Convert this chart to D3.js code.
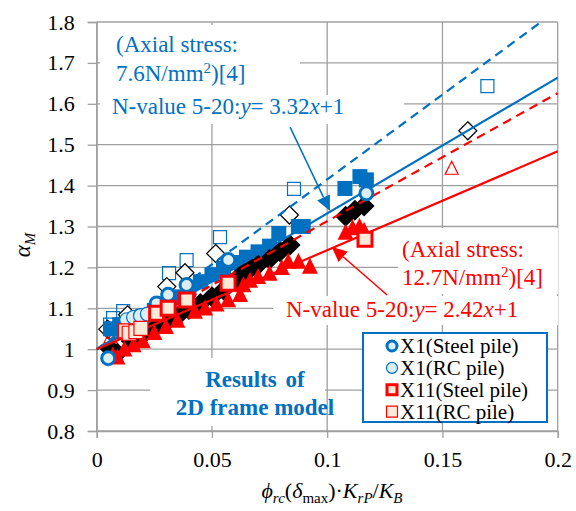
<!DOCTYPE html>
<html>
<head>
<meta charset="utf-8">
<script src="https://cdn.jsdelivr.net/npm/d3@7"></script>
<style>
  body { margin: 0; background: #fff; }
</style>
</head>
<body>
<svg id="chart" width="576" height="511" font-family="Liberation Serif"></svg>
<script>
// tick values and labels
var xTicks = [0, 0.05, 0.1, 0.15, 0.2];
var xTickLabels = ["0", "0.05", "0.1", "0.15", "0.2"];
var yTicks = [0.8, 0.9, 1.0, 1.1, 1.2, 1.3, 1.4, 1.5, 1.6, 1.7, 1.8];
var yTickLabels = ["0.8", "0.9", "1", "1.1", "1.2", "1.3", "1.4", "1.5", "1.6", "1.7", "1.8"];

// trend lines  y = a*x + 1
var lineBlueSolid = 3.32;
var lineBlueDash = 4.15;
var lineRedSolid = 2.42;
var lineRedDash = 3.13;

// open markers (other study)
var openBlueSq = [[0.1695,1.643],[0.0856,1.392],[0.0535,1.274],[0.039,1.218],[0.0314,1.186],[0.0115,1.093],[0.0071,1.076],[0.0058,1.06]];
var openBlackDia = [[0.161,1.534],[0.0836,1.328],[0.0516,1.234],[0.0383,1.187],[0.0304,1.153],[0.0134,1.084],[0.0048,1.049]];
var openRedTri = [[0.154,1.442],[0.0803,1.275],[0.0499,1.181],[0.0101,1.05],[0.008,1.04],[0.006,1.03]];

// filled markers
var fillBlueSq = [[0.006,1.05],[0.01,1.06],[0.015,1.07],[0.02,1.08],[0.025,1.095],[0.03,1.11],[0.035,1.128],[0.04,1.145],[0.045,1.165],[0.05,1.182],[0.055,1.198],[0.06,1.212],[0.065,1.225],[0.07,1.238],[0.075,1.252],[0.079,1.283],[0.0875,1.30],[0.0896,1.30],[0.1077,1.393],[0.1142,1.422],[0.117,1.414]];
var fillBlackDia = [[0.006,1.0],[0.009,0.99],[0.015,1.02],[0.02,1.035],[0.025,1.05],[0.03,1.065],[0.035,1.08],[0.04,1.097],[0.045,1.112],[0.05,1.128],[0.055,1.145],[0.06,1.168],[0.064,1.19],[0.067,1.198],[0.07,1.206],[0.075,1.22],[0.0795,1.238],[0.0839,1.255],[0.108,1.325],[0.112,1.34],[0.116,1.35]];
var fillRedTri = [[0.007,0.985],[0.009,0.98],[0.012,1.0],[0.016,1.01],[0.02,1.02],[0.025,1.04],[0.03,1.055],[0.035,1.07],[0.0426,1.092],[0.047,1.10],[0.052,1.11],[0.057,1.12],[0.0622,1.133],[0.0636,1.157],[0.0665,1.168],[0.07,1.177],[0.075,1.185],[0.0803,1.199],[0.0831,1.214],[0.0875,1.214],[0.0925,1.202],[0.108,1.285],[0.111,1.296],[0.114,1.30],[0.116,1.29]];

// 2D frame model results
var x1Steel = [[0.005,0.978],[0.026,1.112],[0.031,1.133],[0.039,1.157],[0.0571,1.218],[0.117,1.381]];
var x1RC = [[0.013,1.072],[0.016,1.078],[0.019,1.082],[0.022,1.086]];
var x11Steel = [[0.026,1.088],[0.031,1.100],[0.039,1.12],[0.057,1.161],[0.1164,1.269]];
var x11RC = [[0.0125,1.045],[0.0141,1.039],[0.017,1.043],[0.0192,1.051]];

var legendNames = ["X1(Steel pile)", "X1(RC pile)", "X11(Steel pile)", "X11(RC pile)"];

var BLUE = "#0070C0", RED = "#FF0000", LBLUE = "#DAEEF3", PINK = "#FDE9D9", GRID = "#a0a0a0";
var FONT = "Liberation Serif";

var svg = d3.select("#chart");
var x = d3.scaleLinear().domain([0, 0.2]).range([96.7, 557.7]);
var y = d3.scaleLinear().domain([0.8, 1.8]).range([431, 22]);

// grid
svg.append("g").selectAll("line").data(yTicks).join("line")
  .attr("x1", x(0)).attr("x2", x(0.2))
  .attr("y1", d => y(d)).attr("y2", d => y(d))
  .attr("stroke", GRID).attr("stroke-width", 1.3);
svg.append("g").selectAll("line").data(xTicks).join("line")
  .attr("x1", d => x(d)).attr("x2", d => x(d))
  .attr("y1", y(1.8)).attr("y2", y(0.8))
  .attr("stroke", GRID).attr("stroke-width", 1.3);

// axes
var yAxis = svg.append("g").attr("transform", "translate(" + x(0) + ",0)")
  .call(d3.axisLeft(y).tickValues(yTicks).tickSize(9).tickPadding(13)
    .tickFormat((d, i) => yTickLabels[i]));
var xAxis = svg.append("g").attr("transform", "translate(0," + y(0.8) + ")")
  .call(d3.axisBottom(x).tickValues(xTicks).tickSize(7).tickPadding(13)
    .tickFormat((d, i) => xTickLabels[i]));
[yAxis, xAxis].forEach(function (g) {
  g.attr("font-family", FONT).attr("font-size", 22);
  g.select(".domain").attr("stroke", GRID).attr("stroke-width", 1.3);
  g.selectAll(".tick line").attr("stroke", GRID).attr("stroke-width", 1.3);
  g.selectAll(".tick text").attr("fill", "#000");
});

// white boxes behind the annotations
var boxes = [[100, 25, 200, 70], [100, 95, 304, 29], [398, 228, 160, 66], [273, 296, 285, 29], [150, 358, 175, 68]];
svg.append("g").selectAll("rect").data(boxes).join("rect")
  .attr("x", d => d[0]).attr("y", d => d[1]).attr("width", d => d[2]).attr("height", d => d[3])
  .attr("fill", "#fff");

function sqPath(s) { return "M" + (-s/2) + "," + (-s/2) + "h" + s + "v" + s + "h" + (-s) + "z"; }
function diaPath(s) { return "M0," + (-s/2) + "L" + (s/2) + ",0L0," + (s/2) + "L" + (-s/2) + ",0z"; }
function triPath(s) { return "M0," + (-s*0.55) + "L" + (s/2) + "," + (s*0.45) + "L" + (-s/2) + "," + (s*0.45) + "z"; }

function drawPts(data, path, fill, stroke, sw) {
  svg.append("g").selectAll("path").data(data).join("path")
    .attr("transform", d => "translate(" + x(d[0]) + "," + y(d[1]) + ")")
    .attr("d", path).attr("fill", fill).attr("stroke", stroke).attr("stroke-width", sw);
}

// open markers
drawPts(openBlueSq, sqPath(13), "none", BLUE, 1.2);
drawPts(openBlackDia, diaPath(18), "#fff", "#000", 1.2);
drawPts(openRedTri, triPath(13), "none", RED, 1.2);

// filled markers
drawPts(fillBlueSq, sqPath(15), BLUE, "none", 0);
drawPts(fillBlackDia, diaPath(21), "#000", "none", 0);
drawPts(fillRedTri, triPath(16), RED, "none", 0);

// trend lines
function trend(a, color, dash) {
  var xEnd = Math.min(0.2, 0.8 / a);
  svg.append("line")
    .attr("x1", x(0)).attr("y1", y(1))
    .attr("x2", x(xEnd)).attr("y2", y(a * xEnd + 1))
    .attr("stroke", color).attr("stroke-width", 2.2)
    .attr("stroke-dasharray", dash ? "9,6" : null);
}
trend(lineBlueDash, BLUE, true);
trend(lineRedDash, RED, true);
trend(lineBlueSolid, BLUE, false);
trend(lineRedSolid, RED, false);

// 2D frame model
svg.append("g").selectAll("circle").data(x1RC).join("circle")
  .attr("cx", d => x(d[0])).attr("cy", d => y(d[1])).attr("r", 7)
  .attr("fill", LBLUE).attr("stroke", BLUE).attr("stroke-width", 1.2);
svg.append("g").selectAll("circle").data(x1Steel).join("circle")
  .attr("cx", d => x(d[0])).attr("cy", d => y(d[1])).attr("r", 6.5)
  .attr("fill", LBLUE).attr("stroke", BLUE).attr("stroke-width", 3);
drawPts(x11RC, sqPath(14), PINK, RED, 1.2);
drawPts(x11Steel, sqPath(14), PINK, RED, 3);

// annotation texts
function label(tx, ty, color) {
  return svg.append("text").attr("x", tx).attr("y", ty).attr("fill", color)
    .attr("font-family", FONT).attr("font-size", 23);
}
function eqLabel(t, slope) {
  t.append("tspan").text("N-value 5-20:");
  t.append("tspan").attr("font-style", "italic").text("y");
  t.append("tspan").text("= " + slope);
  t.append("tspan").attr("font-style", "italic").text("x");
  t.append("tspan").text("+1");
}
function stressLabel(t, val) {
  t.append("tspan").text(val + "N/mm");
  t.append("tspan").attr("dy", -8).attr("font-size", 15).text("2");
  t.append("tspan").attr("dy", 8).text(")[4]");
}
label(116, 52, BLUE).text("(Axial  stress:");
stressLabel(label(116, 81, BLUE), "7.6");
eqLabel(label(112, 114, BLUE), "3.32");

label(402, 257, RED).text("(Axial  stress:");
stressLabel(label(402, 285, RED), "12.7");
eqLabel(label(286, 317, RED), "2.42");

svg.append("text").attr("x", 255).attr("y", 387).attr("text-anchor", "middle")
  .attr("fill", BLUE).attr("font-family", FONT).attr("font-size", 23).attr("font-weight", "bold")
  .attr("word-spacing", 3).text("Results of");
svg.append("text").attr("x", 255).attr("y", 415).attr("text-anchor", "middle")
  .attr("fill", BLUE).attr("font-family", FONT).attr("font-size", 23).attr("font-weight", "bold")
  .text("2D frame model");

// arrows
function arrow(x0, y0, x1, y1, color) {
  var p0 = [x(x0), y(y0)], p1 = [x(x1), y(y1)];
  var ang = Math.atan2(p1[1] - p0[1], p1[0] - p0[0]);
  var L = 15, W = 7;
  var bx = p1[0] - L * Math.cos(ang), by = p1[1] - L * Math.sin(ang);
  svg.append("line").attr("x1", p0[0]).attr("y1", p0[1]).attr("x2", bx).attr("y2", by)
    .attr("stroke", color).attr("stroke-width", 1.5);
  svg.append("path")
    .attr("d", "M" + p1[0] + "," + p1[1] +
      "L" + (bx + W * Math.sin(ang)) + "," + (by - W * Math.cos(ang)) +
      "L" + (bx - W * Math.sin(ang)) + "," + (by + W * Math.cos(ang)) + "z")
    .attr("fill", color);
}
arrow(0.0839, 1.543, 0.1012, 1.338, BLUE);
arrow(0.126, 1.1325, 0.102, 1.250, RED);

// axis titles
var xt = svg.append("text").attr("x", 332).attr("y", 498).attr("text-anchor", "middle")
  .attr("font-family", FONT).attr("font-size", 22);
xt.append("tspan").attr("font-style", "italic").text("ϕ");
xt.append("tspan").attr("font-style", "italic").attr("font-size", 15).attr("dy", 5).text("rc");
xt.append("tspan").attr("dy", -5).text("(");
xt.append("tspan").attr("font-style", "italic").text("δ");
xt.append("tspan").attr("font-size", 15).attr("dy", 5).text("max");
xt.append("tspan").attr("dy", -5).text(")\u00b7");
xt.append("tspan").attr("font-style", "italic").text("K");
xt.append("tspan").attr("font-style", "italic").attr("font-size", 15).attr("dy", 5).text("rP");
xt.append("tspan").attr("dy", -5).text("/");
xt.append("tspan").attr("font-style", "italic").text("K");
xt.append("tspan").attr("font-style", "italic").attr("font-size", 15).attr("dy", 5).text("B");

var yt = svg.append("text").attr("transform", "translate(30,245) rotate(-90)")
  .attr("text-anchor", "middle").attr("font-family", FONT).attr("font-size", 23);
yt.append("tspan").attr("font-style", "italic").text("α");
yt.append("tspan").attr("font-style", "italic").attr("font-size", 15).attr("dy", 5).text("M");

// legend
var lg = svg.append("g").attr("transform", "translate(363,333)");
lg.append("rect").attr("width", 184).attr("height", 89).attr("fill", "#fff")
  .attr("stroke", BLUE).attr("stroke-width", 2);
var rows = lg.selectAll("g.row").data(legendNames).join("g")
  .attr("transform", (d, i) => "translate(29," + (13 + i * 21.9) + ")");
rows.each(function (d, i) {
  var g = d3.select(this);
  if (i < 2) {
    g.append("circle").attr("r", i === 0 ? 5 : 5.5).attr("fill", LBLUE).attr("stroke", BLUE)
      .attr("stroke-width", i === 0 ? 3 : 1.2);
  } else {
    g.append("path").attr("d", sqPath(i === 2 ? 10 : 11)).attr("fill", PINK).attr("stroke", RED)
      .attr("stroke-width", i === 2 ? 3 : 1.2);
  }
  g.append("text").attr("x", 8).attr("y", 7).attr("font-family", FONT).attr("font-size", 21).text(d);
});
</script>
</body>
</html>
